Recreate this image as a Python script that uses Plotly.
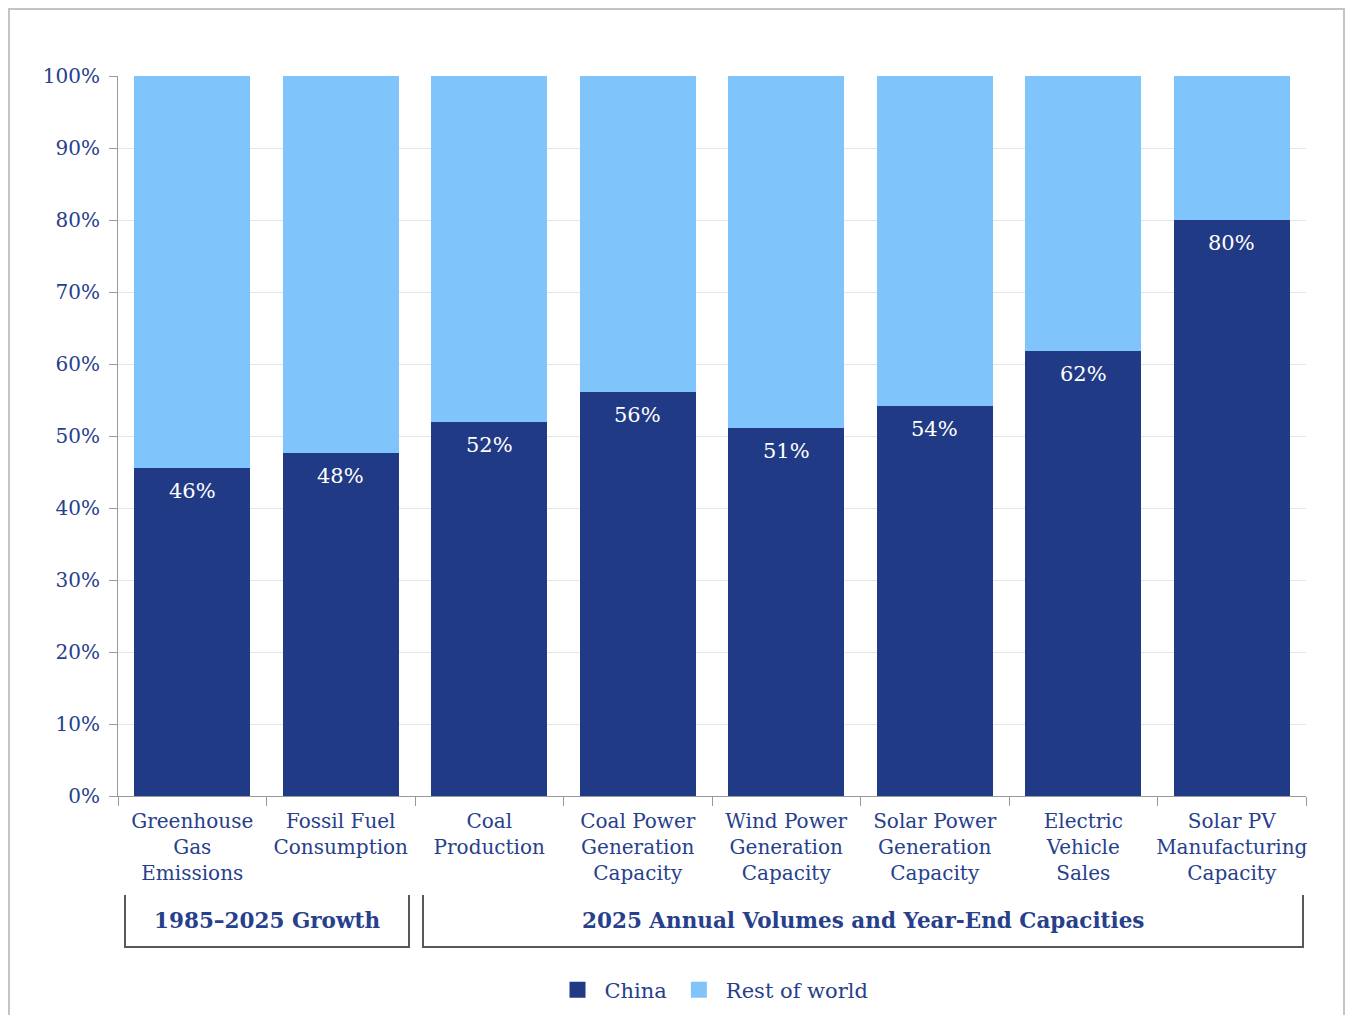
import plotly.graph_objects as go

categories = ["Greenhouse<br>Gas<br>Emissions", "Fossil Fuel<br>Consumption", "Coal<br>Production",
              "Coal Power<br>Generation<br>Capacity", "Wind Power<br>Generation<br>Capacity",
              "Solar Power<br>Generation<br>Capacity", "Electric<br>Vehicle<br>Sales",
              "Solar PV<br>Manufacturing<br>Capacity"]
china = [45.6, 47.6, 51.9, 56.1, 51.1, 54.2, 61.8, 80.0]
rest = [100 - v for v in china]
series_names = ["China", "Rest of world"]
group_labels = ["1985\u20132025 Growth", "2025 Annual Volumes and Year-End Capacities"]
y_ticks = list(range(0, 101, 10))
y_tick_text = [f"{t}%" for t in y_ticks]

FONT = "DejaVu Serif"
TXT = "#27408b"
DARK = "#213a85"
LIGHT = "#80c4fc"

fig = go.Figure()
fig.add_bar(x=categories, y=china, name=series_names[0], marker=dict(color=DARK, line_width=0), showlegend=False)
fig.add_bar(x=categories, y=rest, name=series_names[1], marker=dict(color=LIGHT, line_width=0), showlegend=False)
# legend entries with larger square swatches
for nm, col in zip(series_names, [DARK, LIGHT]):
    fig.add_scatter(x=[None], y=[None], mode="markers", name=nm,
                    marker=dict(symbol="square", size=16, color=col))

for c, v in zip(categories, china):
    fig.add_annotation(x=c, y=v, yshift=-23, text=f"{v:.0f}%", showarrow=False,
                       font=dict(family=FONT, size=21, color="white"))

# page offset of 8px (body margin); figure is about 1337 x 1007
L, R, T, B = 110, 39, 68, 219
PL, PT, PW, PH = 118, 76, 1188, 720  # plot area in page pixels

def px(x):
    return (x - PL) / PW

def py(y):
    return (PT + PH - y) / PH

# group brackets
for (x0, x1), lab in zip([(125, 409), (423, 1303)], group_labels):
    fig.add_shape(type="path", xref="paper", yref="paper",
                  path=f"M {px(x0)} {py(895)} L {px(x0)} {py(947)} L {px(x1)} {py(947)} L {px(x1)} {py(895)}",
                  line=dict(color="#55585f", width=2))
    fig.add_annotation(xref="paper", yref="paper", x=(px(x0) + px(x1)) / 2, y=py(920),
                       xanchor="center", yanchor="middle",
                       text=f"<b>{lab}</b>", showarrow=False,
                       font=dict(family=FONT, size=21.5, color=TXT))

# figure border
fig.add_shape(type="rect", xref="paper", yref="paper", x0=px(9), x1=px(1344), y0=py(1040), y1=py(9),
              line=dict(color="#c4c4c4", width=2), layer="below")

fig.update_layout(
    autosize=True, barmode="stack", bargap=0.22,
    margin=dict(l=L, r=R, t=T, b=B, autoexpand=False),
    plot_bgcolor="white", paper_bgcolor="white",
    font=dict(family=FONT, size=20, color=TXT),
    showlegend=True,
    legend=dict(orientation="h", x=0.5, xanchor="center", y=py(990), yanchor="middle",
                font=dict(family=FONT, size=21, color=TXT), itemwidth=44, traceorder="normal"),
    xaxis=dict(showline=True, linecolor="#999", linewidth=1, ticks="outside", tickson="boundaries",
               ticklen=9, tickcolor="#999", showgrid=False, tickangle=0, ticklabelstandoff=7,
               automargin=False, tickfont=dict(family=FONT, size=20, color=TXT)),
    yaxis=dict(range=[0, 100], tickmode="array", tickvals=y_ticks, ticktext=y_tick_text, showline=True,
               linecolor="#999", linewidth=1, ticks="outside", ticklen=8, tickcolor="#999",
               ticklabelstandoff=5, gridcolor="#e6e6e6", zeroline=False, automargin=False,
               tickfont=dict(family=FONT, size=20, color=TXT)),
)
fig.write_html("out.html")
